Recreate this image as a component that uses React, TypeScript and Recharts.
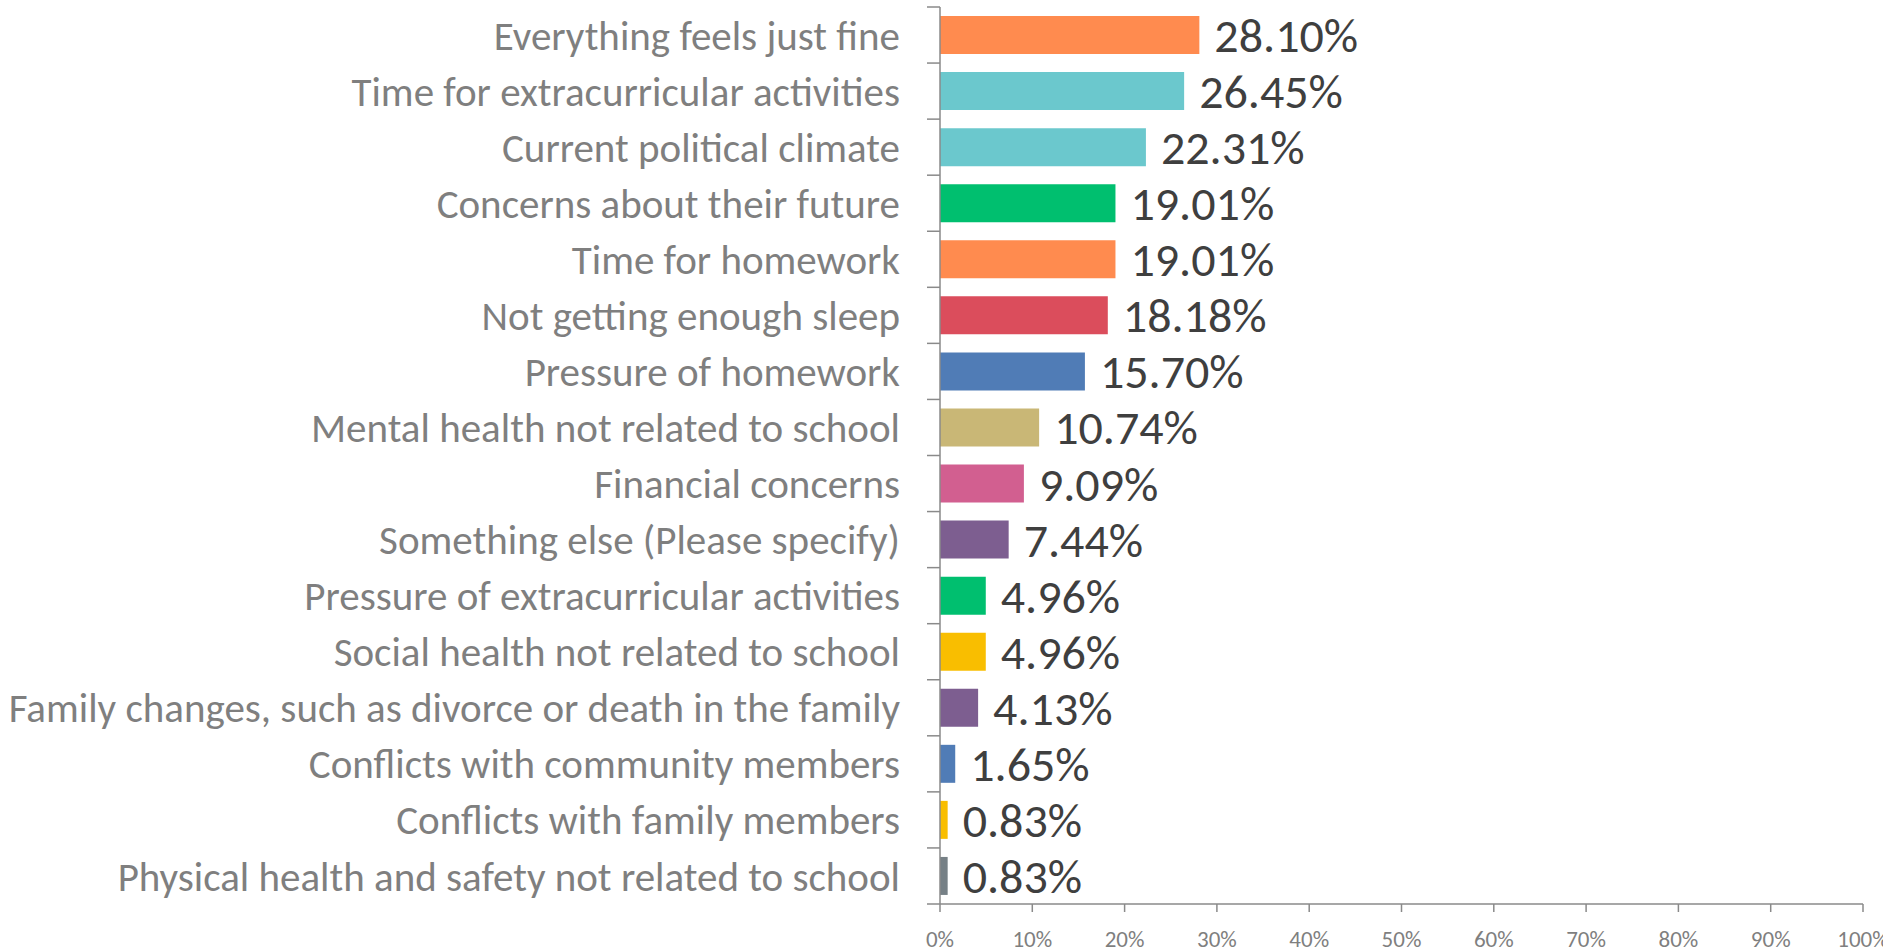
import React from "react";
import { BarChart, Bar, XAxis, YAxis, Cell, LabelList } from "recharts";

document.body.style.margin = "0";

const categories = [
  "Everything feels just fine",
  "Time for extracurricular activities",
  "Current political climate",
  "Concerns about their future",
  "Time for homework",
  "Not getting enough sleep",
  "Pressure of homework",
  "Mental health not related to school",
  "Financial concerns",
  "Something else (Please specify)",
  "Pressure of extracurricular activities",
  "Social health not related to school",
  "Family changes, such as divorce or death in the family",
  "Conflicts with community members",
  "Conflicts with family members",
  "Physical health and safety not related to school",
];

const values = [28.1, 26.45, 22.31, 19.01, 19.01, 18.18, 15.7, 10.74, 9.09, 7.44, 4.96, 4.96, 4.13, 1.65, 0.83, 0.83];

const barColors = [
  "#FF8B4F", "#6BC8CD", "#6BC8CD", "#00BF6F", "#FF8B4F", "#DB4D5C", "#507CB6", "#C9B776",
  "#D25F90", "#7D5E90", "#00BF6F", "#F9BE00", "#7D5E90", "#507CB6", "#F9BE00", "#768086",
];

const xTicks = [0, 10, 20, 30, 40, 50, 60, 70, 80, 90, 100];

const data = categories.map((name, i) => ({ name, value: values[i] }));

const FONT = "Carlito, Lato, 'Open Sans', sans-serif";
const AXIS = "#8a8a8a";
const LABEL_GAP = 40;
const TICK_LEN = 13;

// category label plus Excel-style tick marks on the band boundaries
const CategoryTick = (props: any) => {
  const { x, y, payload, index, visibleTicksCount } = props;
  const half = payload.offset || 0;
  const axisX = x + LABEL_GAP;
  const isLast = index === visibleTicksCount - 1;
  return (
    <g>
      <text
        x={x}
        y={y}
        dy="0.355em"
        textAnchor="end"
        fill="#7f7f7f"
        fontSize={41}
        fontFamily={FONT}
      >
        {payload.value}
      </text>
      <line x1={axisX - TICK_LEN} x2={axisX} y1={y - half} y2={y - half} stroke={AXIS} strokeWidth={1.5} />
      {isLast && (
        <line x1={axisX - TICK_LEN} x2={axisX} y1={y + half} y2={y + half} stroke={AXIS} strokeWidth={1.5} />
      )}
    </g>
  );
};

export default function App() {
  return (
    <div style={{ width: 1883, height: 952, background: "#fff", fontFamily: FONT }}>
      <BarChart
        width={1883}
        height={952}
        data={data}
        layout="vertical"
        margin={{ top: 7, right: 20, bottom: 0, left: 0 }}
      >
        <XAxis
          type="number"
          domain={[0, 100]}
          ticks={xTicks}
          tickFormatter={(v: number) => `${v}%`}
          stroke={AXIS}
          strokeWidth={1.5}
          tickSize={8}
          tickMargin={19}
          height={48}
          interval={0}
          tick={{ fill: "#7f7f7f", fontSize: 23, fontFamily: FONT }}
        />
        <YAxis
          type="category"
          dataKey="name"
          width={940}
          interval={0}
          tickLine={false}
          tickSize={0}
          tickMargin={LABEL_GAP}
          stroke={AXIS}
          strokeWidth={1.5}
          tick={<CategoryTick />}
        />
        <Bar dataKey="value" barSize={38} isAnimationActive={false}>
          {data.map((d, i) => (
            <Cell key={d.name} fill={barColors[i]} />
          ))}
          <LabelList
            dataKey="value"
            position="right"
            offset={15}
            formatter={(v: number) => `${v.toFixed(2)}%`}
            fill="#3f3f3f"
            fontSize={48}
            fontFamily={FONT}
          />
        </Bar>
      </BarChart>
    </div>
  );
}
